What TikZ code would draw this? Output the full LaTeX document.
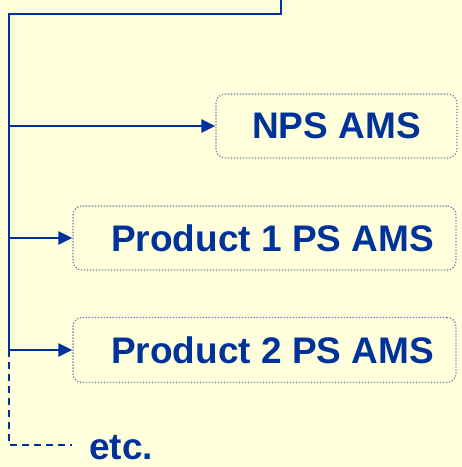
\documentclass[tikz,border=0pt]{standalone}
\usepackage{fontspec}
\setmainfont{Liberation Sans}
\usetikzlibrary{arrows.meta}
\definecolor{bgyellow}{HTML}{FFFFDC}
\definecolor{navy}{HTML}{003399}
\definecolor{boxline}{HTML}{6A80B0}
\tikzset{
  wire/.style={draw=navy, line width=2.5pt},
  arrowwire/.style={wire, -{Triangle[length=14pt,width=13pt]}},
  dashwire/.style={draw=navy, line width=2.3pt, dash pattern=on 7pt off 5pt},
  amsbox/.style={draw=boxline, line width=1.2pt, dash pattern=on 1.3pt off 1.7pt, rounded corners=9pt,
    text=navy, font=\fontsize{37}{40}\selectfont\bfseries, inner sep=0pt},
  etclabel/.style={text=navy, font=\fontsize{37}{40}\selectfont\bfseries, inner sep=0pt}
}
\begin{document}
\begin{tikzpicture}[x=1pt,y=-1pt]
\useasboundingbox[fill=bgyellow] (0,0) rectangle (462,467);
% boxes
\node[amsbox, minimum width=241pt, minimum height=64pt] (nps) at (336.5,126) {NPS AMS};
\node[amsbox, minimum width=383pt, minimum height=64pt] (p1) at (264.5,238) {\hspace*{16pt}Product 1 PS AMS};
\node[amsbox, minimum width=383pt, minimum height=65pt] (p2) at (264.5,350) {\hspace*{16pt}Product 2 PS AMS};
\node[etclabel, anchor=base west] (etc) at (89,459) {etc.};
% coordinates of the trunk
\coordinate (top) at (281,0);
\coordinate (c1) at (281,14);
\coordinate (c2) at (9,14);
\coordinate (b1) at (9,126);
\coordinate (b2) at (9,238);
\coordinate (b3) at (9,350);
\coordinate (bend) at (9,445);
\coordinate (etcend) at (72,445);
% connectors
\draw[wire] (top) -- (c1) -- (c2) -- (b3);
\draw[arrowwire] (b1) -- (nps.west);
\draw[arrowwire] (b2) -- (p1.west);
\draw[arrowwire] (b3) -- (p2.west);
\draw[dashwire] (b3) -- (bend) -- (etcend);
\end{tikzpicture}
\end{document}
